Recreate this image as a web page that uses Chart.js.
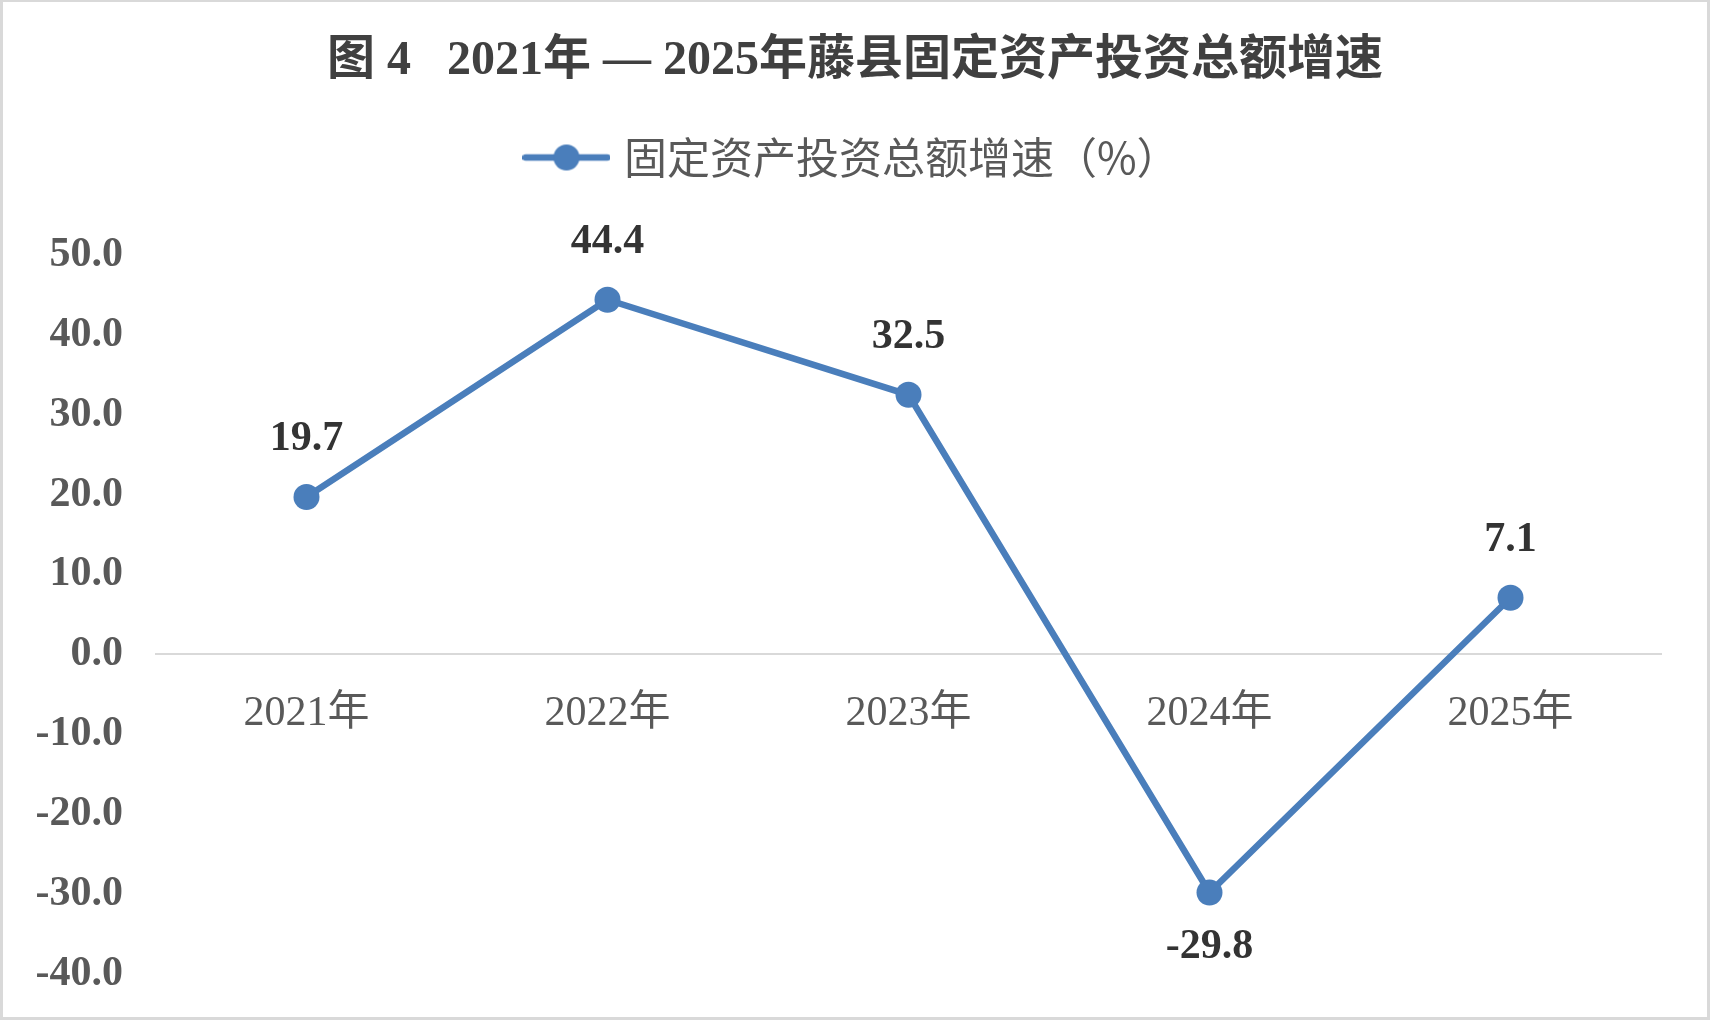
<!DOCTYPE html>
<html>
<head>
<meta charset="utf-8">
<script src="https://cdn.jsdelivr.net/npm/chart.js@4/dist/chart.umd.min.js"></script>
<style>
  html, body { margin: 0; padding: 0; background: #fff; }
  .frame { width: 1710px; height: 1020px; box-sizing: border-box; border: 3px solid #d9d9d9; border-top-width: 2px; position: relative; }
  canvas { position: absolute; left: 0; top: 0; }
</style>
</head>
<body>
<div class="frame">
  <canvas id="growthChart" width="1704" height="1015"></canvas>
</div>
<script>
// 数据
const years = ["2021年", "2022年", "2023年", "2024年", "2025年"];
const growth = [19.7, 44.4, 32.5, -29.8, 7.1];
const yTicks = [50, 40, 30, 20, 10, 0, -10, -20, -30, -40];

const seriesName = "固定资产投资总额增速（%）";
const titleText = "图 4   2021年 — 2025年藤县固定资产投资总额增速";

const blue = '#4a7ebb';
const serif = "'Liberation Serif', 'Noto Sans CJK SC', serif";

// legend marker: line with a dot in the middle
function makeLegendMarker() {
    const c = document.createElement('canvas');
    c.width = 88;
    c.height = 30;
    const g = c.getContext('2d');
    g.strokeStyle = blue;
    g.lineWidth = 6.5;
    g.lineCap = 'round';
    g.beginPath();
    g.moveTo(3, 15);
    g.lineTo(85, 15);
    g.stroke();
    g.fillStyle = blue;
    g.beginPath();
    g.arc(44, 15, 13, 0, Math.PI * 2);
    g.fill();
    return c;
}
const legendMarker = makeLegendMarker();

// extra room between the legend and the plot
const legendSpacer = {
    id: 'legendSpacer',
    beforeInit(chart) {
        const fit = chart.legend.fit;
        chart.legend.fit = function () {
            fit.call(this);
            this.height += 66;
        };
    }
};

// value labels above / below each point
const valueLabels = {
    id: 'valueLabels',
    afterDatasetsDraw(chart) {
        const ctx = chart.ctx;
        const meta = chart.getDatasetMeta(0);
        ctx.save();
        ctx.font = "bold 42px " + serif;
        ctx.fillStyle = '#333333';
        ctx.textAlign = 'center';
        ctx.textBaseline = 'middle';
        meta.data.forEach((pt, i) => {
            const v = growth[i];
            const dy = v < 0 ? 55 : -58;
            ctx.fillText(v.toFixed(1), pt.x, pt.y + dy);
        });
        ctx.restore();
    }
};

const ctx = document.getElementById('growthChart').getContext('2d');
const growthChart = new Chart(ctx, {
    type: 'line',
    data: {
        labels: years,
        datasets: [{
            label: seriesName,
            data: growth,
            borderColor: blue,
            backgroundColor: blue,
            borderWidth: 6.5,
            pointRadius: 13,
            pointHoverRadius: 13,
            pointBackgroundColor: blue,
            pointBorderWidth: 0,
            tension: 0,
            fill: false
        }]
    },
    options: {
        responsive: false,
        animation: false,
        layout: { padding: { left: 0, right: 0, top: 0, bottom: 43 } },
        plugins: {
            title: {
                display: true,
                text: titleText,
                color: '#404040',
                font: { family: serif, size: 48, weight: 'bold', lineHeight: 1.25 },
                padding: { top: 30, bottom: 6 }
            },
            legend: {
                display: true,
                position: 'top',
                labels: {
                    usePointStyle: true,
                    pointStyleWidth: 72,
                    padding: 38,
                    color: '#595959',
                    font: { family: "'Noto Sans CJK SC', sans-serif", size: 43 },
                    generateLabels(chart) {
                        return [{
                            text: seriesName,
                            pointStyle: legendMarker,
                            fillStyle: blue,
                            strokeStyle: blue,
                            lineWidth: 0,
                            fontColor: '#595959',
                            datasetIndex: 0,
                            hidden: false
                        }];
                    }
                }
            },
            tooltip: { enabled: false }
        },
        scales: {
            x: {
                position: { y: 0 },
                offset: true,
                grid: { display: false, drawTicks: false },
                border: { display: true, color: '#d9d9d9', width: 2 },
                ticks: {
                    color: '#595959',
                    padding: 34,
                    font: { family: serif, size: 42 }
                },
                afterFit(scale) { scale.height = 0; }
            },
            y: {
                min: -40,
                max: 50,
                afterBuildTicks(scale) {
                    scale.ticks = yTicks.map(v => ({ value: v }));
                },
                grid: { display: false, drawTicks: false },
                border: { display: false },
                ticks: {
                    color: '#595959',
                    padding: 33,
                    font: { family: serif, size: 42, weight: 'bold' },
                    callback: v => v.toFixed(1)
                },
                afterFit(scale) {
                    scale.width = 153;
                    scale.paddingTop = 0;
                    scale.paddingBottom = 0;
                }
            },
            // empty right-hand axis, only keeps the plot off the right edge
            yRight: {
                position: 'right',
                display: true,
                min: -40,
                max: 50,
                grid: { display: false, drawTicks: false },
                border: { display: false },
                ticks: { display: false },
                afterFit(scale) {
                    scale.width = 46;
                    scale.paddingTop = 0;
                    scale.paddingBottom = 0;
                }
            }
        }
    },
    plugins: [legendSpacer, valueLabels]
});
</script>
</body>
</html>
